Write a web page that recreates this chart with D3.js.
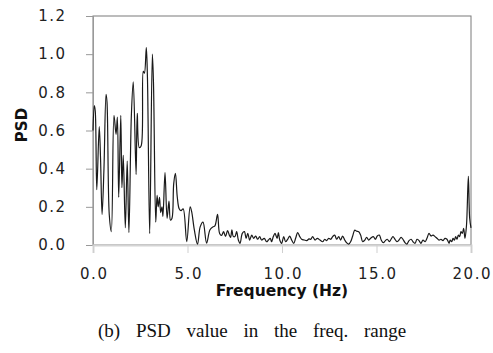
<!DOCTYPE html>
<html>
<head>
<meta charset="utf-8">
<script src="https://cdn.jsdelivr.net/npm/d3@7"></script>
<style>
  body { margin: 0; background: #fff; }
  svg { display: block; }
  .tick text { font-family: "DejaVu Sans", sans-serif; font-size: 15px; letter-spacing: 1.5px; fill: #222; }
</style>
</head>
<body>
<svg id="chart" width="493" height="353"></svg>
<script>
// frequency (Hz) and PSD value
var freq = [0.00,0.07,0.12,0.20,0.33,0.40,0.48,0.58,0.69,0.74,0.86,0.97,1.11,1.22,1.29,1.36,1.47,1.53,1.60,1.71,1.81,1.90,2.03,2.13,2.28,2.34,2.45,2.55,2.66,2.72,2.82,2.88,3.00,3.14,3.20,3.32,3.39,3.45,3.52,3.58,3.65,3.70,3.81,3.92,4.02,4.10,4.18,4.27,4.36,4.46,4.56,4.66,4.77,4.96,5.14,5.22,5.36,5.53,5.67,5.82,6.01,6.19,6.35,6.45,6.59,6.70,6.80,6.91,7.01,7.12,7.22,7.28,7.35,7.42,7.51,7.60,7.69,7.78,7.90,8.01,8.10,8.19,8.29,8.40,8.50,8.61,8.71,8.82,8.92,9.06,9.19,9.28,9.38,9.45,9.54,9.63,9.74,9.81,9.88,9.98,10.09,10.19,10.30,10.41,10.51,10.62,10.72,10.83,10.94,11.04,11.18,11.31,11.43,11.52,11.62,11.75,11.87,12.01,12.15,12.26,12.36,12.47,12.58,12.68,12.79,12.89,13.00,13.10,13.21,13.32,13.42,13.53,13.63,13.74,13.85,13.95,14.06,14.16,14.27,14.38,14.48,14.59,14.69,14.83,14.94,15.04,15.15,15.25,15.36,15.47,15.57,15.68,15.77,15.87,15.98,16.08,16.19,16.30,16.40,16.51,16.61,16.72,16.83,16.93,17.04,17.14,17.25,17.35,17.46,17.57,17.67,17.78,17.88,17.99,18.10,18.20,18.31,18.41,18.52,18.62,18.73,18.84,18.90,18.98,19.05,19.12,19.19,19.26,19.33,19.40,19.47,19.54,19.61,19.68,19.76,19.86,19.93,20.00];
var psd = [0.60,0.73,0.70,0.29,0.62,0.45,0.16,0.40,0.79,0.75,0.16,0.07,0.68,0.58,0.67,0.25,0.68,0.30,0.47,0.09,0.44,0.065,0.68,0.855,0.37,0.69,0.51,0.52,0.91,0.90,1.035,0.88,0.06,1.00,0.85,0.12,0.26,0.20,0.25,0.17,0.20,0.15,0.38,0.14,0.23,0.13,0.14,0.32,0.375,0.25,0.19,0.18,0.19,0.017,0.20,0.175,0.08,0.004,0.095,0.12,0.01,0.08,0.095,0.10,0.16,0.06,0.05,0.07,0.045,0.075,0.05,0.04,0.08,0.045,0.044,0.07,0.026,0.009,0.061,0.07,0.035,0.061,0.026,0.052,0.035,0.047,0.03,0.044,0.026,0.035,0.017,0.026,0.035,0.017,0.044,0.061,0.035,0.065,0.026,0.009,0.044,0.017,0.03,0.047,0.026,0.009,0.035,0.065,0.044,0.03,0.026,0.023,0.032,0.03,0.044,0.026,0.035,0.026,0.017,0.03,0.023,0.035,0.03,0.044,0.052,0.03,0.044,0.026,0.047,0.026,0.012,0.005,0.017,0.047,0.078,0.072,0.07,0.052,0.017,0.026,0.04,0.026,0.035,0.044,0.03,0.047,0.052,0.026,0.012,0.023,0.03,0.017,0.03,0.044,0.03,0.017,0.026,0.04,0.03,0.012,0.005,0.023,0.03,0.017,0.009,0.03,0.023,0.009,0.026,0.017,0.035,0.061,0.047,0.052,0.044,0.035,0.026,0.03,0.023,0.035,0.03,0.009,0.026,0.017,0.035,0.026,0.044,0.03,0.052,0.044,0.07,0.061,0.087,0.035,0.10,0.36,0.14,0.09];
var xTicks = [0, 5, 10, 15, 20],
    yTicks = [0, 0.2, 0.4, 0.6, 0.8, 1.0, 1.2];

var svg = d3.select("#chart"),
    margin = {top: 16, right: 22, bottom: 108, left: 93},
    width = +svg.attr("width") - margin.left - margin.right,
    height = +svg.attr("height") - margin.top - margin.bottom,
    g = svg.append("g").attr("transform", "translate(" + margin.left + "," + margin.top + ")");

var x = d3.scaleLinear().domain([0, 20]).range([0, width]);
var y = d3.scaleLinear().domain([0, 1.2]).range([height, 0]);

// plot area border
g.append("rect")
  .attr("x", 0).attr("y", 0)
  .attr("width", width).attr("height", height)
  .attr("fill", "none")
  .attr("stroke", "#7a7a7a")
  .attr("stroke-width", 1);

// y axis
var yAxis = g.append("g")
  .call(d3.axisLeft(y).tickValues(yTicks).tickFormat(d3.format(".1f")).tickSize(7).tickPadding(19.5));
yAxis.select(".domain").attr("stroke", "#999");
yAxis.selectAll(".tick line").attr("stroke", "#999");

// x axis
var xAxis = g.append("g")
  .attr("transform", "translate(0," + height + ")")
  .call(d3.axisBottom(x).tickValues(xTicks).tickFormat(d3.format(".1f")).tickSize(8).tickPadding(15));
xAxis.select(".domain").attr("stroke", "#d4d4d4").attr("stroke-width", 2);
xAxis.selectAll(".tick line").attr("stroke", "#cfcfcf");
xAxis.selectAll(".tick text").attr("dx", "0.75px");

// PSD line
var line = d3.line()
  .x((d, i) => x(freq[i]))
  .y(d => y(d))
  .curve(d3.curveCatmullRom.alpha(0.5));

g.append("path")
  .datum(psd)
  .attr("fill", "none")
  .attr("stroke", "#1a1a1a")
  .attr("stroke-width", 1.2)
  .attr("stroke-linejoin", "round")
  .attr("d", line);

// axis titles
svg.append("text")
  .attr("x", margin.left + width / 2)
  .attr("y", 296)
  .attr("text-anchor", "middle")
  .style("font-family", "'DejaVu Sans', sans-serif")
  .style("font-weight", "bold")
  .style("font-size", "15.5px")
  .style("fill", "#111")
  .text("Frequency (Hz)");

svg.append("text")
  .attr("transform", "translate(27,125) rotate(-90)")
  .attr("text-anchor", "middle")
  .style("font-family", "'DejaVu Sans', sans-serif")
  .style("font-weight", "bold")
  .style("font-size", "15px")
  .style("fill", "#111")
  .text("PSD");

// caption
svg.append("text")
  .attr("x", 98)
  .attr("y", 337)
  .style("font-family", "'Liberation Serif', serif")
  .style("font-size", "19px")
  .style("word-spacing", "11px")
  .style("fill", "#111")
  .text("(b) PSD value in the freq. range");
</script>
</body>
</html>
